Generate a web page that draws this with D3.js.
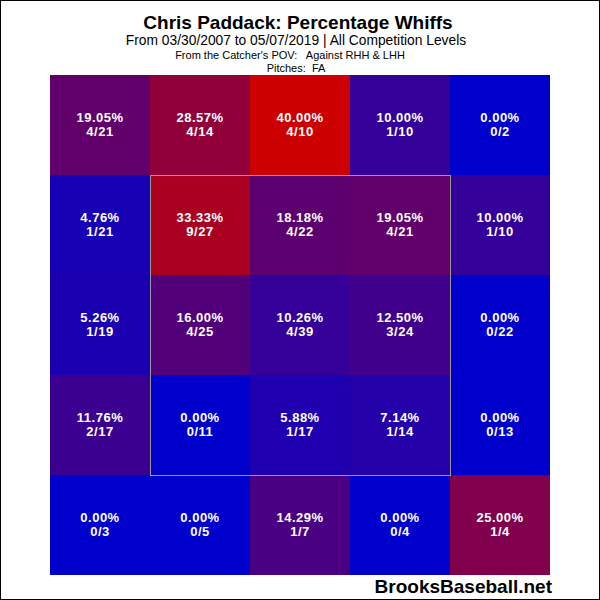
<!DOCTYPE html>
<html>
<head>
<meta charset="utf-8">
<script src="https://cdn.jsdelivr.net/npm/d3@7"></script>
<style>
  body { margin: 0; background: #fff; }
  svg { display: block; font-family: "Liberation Sans", Arial, sans-serif; }
</style>
</head>
<body>
<div id="chart"></div>
<script>
// Zone grid, rows top -> bottom, columns left -> right (catcher's view)
const rows = [0, 1, 2, 3, 4];
const cols = [0, 1, 2, 3, 4];

const whiffs = [
  [4, 4, 4, 1, 0],
  [1, 9, 4, 4, 1],
  [1, 4, 4, 3, 0],
  [2, 0, 1, 1, 0],
  [0, 0, 1, 0, 1]
];
const pitches = [
  [21, 14, 10, 10, 2],
  [21, 27, 22, 21, 10],
  [19, 25, 39, 24, 22],
  [17, 11, 17, 14, 13],
  [3, 5, 7, 4, 4]
];

const titleLines = [
  "Chris Paddack: Percentage Whiffs",
  "From 03/30/2007 to 05/07/2019 | All Competition Levels",
  "From the Catcher's POV:   Against RHH & LHH",
  "Pitches:  FA"
];

const W = 600, H = 600;
const margin = { top: 75, left: 50, right: 50, bottom: 25 };

const svg = d3.select("#chart")
  .append("svg")
  .attr("width", W)
  .attr("height", H);

// outer frame
svg.append("rect")
  .attr("x", 0.5).attr("y", 0.5)
  .attr("width", W - 1).attr("height", H - 1)
  .attr("fill", "#fff")
  .attr("stroke", "#000");

const x = d3.scaleBand().domain(cols).range([margin.left, W - margin.right]);
const y = d3.scaleBand().domain(rows).range([margin.top, H - margin.bottom]);

const color = d3.scaleLinear()
  .domain([0, 40])
  .range(["#0000cc", "#cc0000"])
  .clamp(true);

const cells = [];
rows.forEach(r => cols.forEach(c => {
  const n = pitches[r][c], k = whiffs[r][c];
  cells.push({ r, c, k, n, pct: n ? 100 * k / n : 0 });
}));

const g = svg.append("g");

g.selectAll("rect.cell")
  .data(cells)
  .enter().append("rect")
  .attr("class", "cell")
  .attr("x", d => x(d.c))
  .attr("y", d => y(d.r))
  .attr("width", x.bandwidth())
  .attr("height", y.bandwidth())
  .attr("fill", d => color(d.pct));

// strike zone outline (inner 3x3)
svg.append("rect")
  .attr("x", x(1) + 0.5)
  .attr("y", y(1) + 0.5)
  .attr("width", x.bandwidth() * 3)
  .attr("height", y.bandwidth() * 3)
  .attr("fill", "none")
  .attr("stroke", "#999")
  .attr("stroke-width", 1);

const labels = g.selectAll("g.lab")
  .data(cells)
  .enter().append("g")
  .attr("class", "lab")
  .attr("transform", d => `translate(${x(d.c) + x.bandwidth() / 2},${y(d.r) + y.bandwidth() / 2})`)
  .attr("fill", "#fff")
  .attr("font-weight", "bold")
  .attr("font-size", "13px")
  .attr("text-anchor", "middle")
  .style("letter-spacing", "0.5px");

labels.append("text")
  .attr("y", -3)
  .text(d => d.pct.toFixed(2) + "%");

labels.append("text")
  .attr("y", 11)
  .text(d => d.k + "/" + d.n);

// titles
svg.append("text")
  .attr("x", 298).attr("y", 29)
  .attr("text-anchor", "middle")
  .attr("font-weight", "bold")
  .attr("font-size", "19px")
  .text(titleLines[0]);

svg.append("text")
  .attr("x", 296).attr("y", 45)
  .attr("text-anchor", "middle")
  .attr("font-size", "13.8px")
  .text(titleLines[1]);

svg.append("text")
  .attr("x", 290).attr("y", 59)
  .attr("text-anchor", "middle")
  .attr("font-size", "11px")
  .style("white-space", "pre")
  .text(titleLines[2]);

svg.append("text")
  .attr("x", 296).attr("y", 72)
  .attr("text-anchor", "middle")
  .attr("font-size", "11px")
  .style("white-space", "pre")
  .text(titleLines[3]);

svg.append("text")
  .attr("x", 552).attr("y", 593)
  .attr("text-anchor", "end")
  .attr("font-weight", "bold")
  .attr("font-size", "19px")
  .text("BrooksBaseball.net");
</script>
</body>
</html>
